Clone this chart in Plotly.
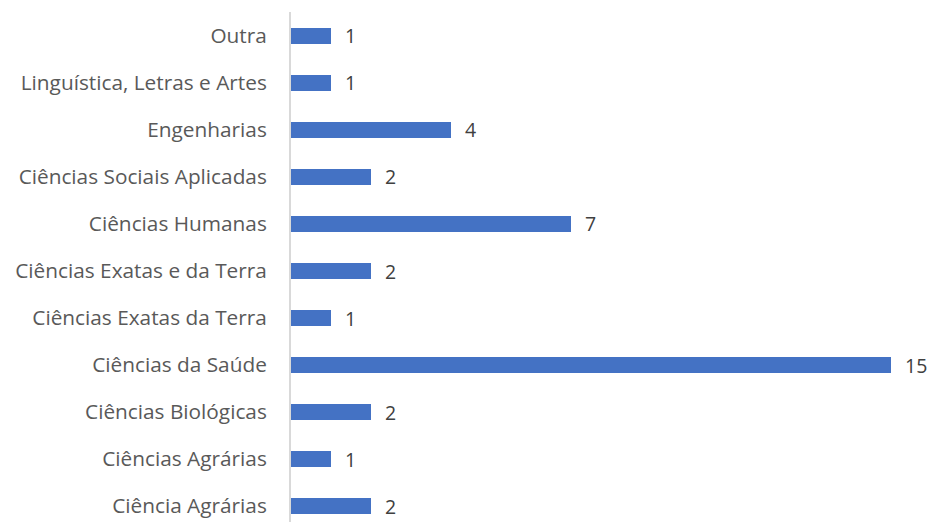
import plotly.graph_objects as go

categories = [
    'Ciência Agrárias', 'Ciências Agrárias', 'Ciências Biológicas',
    'Ciências da Saúde', 'Ciências Exatas da Terra', 'Ciências Exatas e da Terra',
    'Ciências Humanas', 'Ciências Sociais Aplicadas', 'Engenharias',
    'Linguística, Letras e Artes', 'Outra'
]
counts = [2, 1, 2, 15, 1, 2, 7, 2, 4, 1, 1]

fig = go.Figure()

fig.add_trace(go.Bar(
    x=counts,
    y=categories,
    orientation='h',
    marker=dict(color='#4472C4', line=dict(width=0)),
    width=0.34,
    hoverinfo='x+y'
))

# value labels to the right of each bar
for cat, val in zip(categories, counts):
    fig.add_annotation(
        x=val, y=cat, text=str(val),
        xanchor='left', yanchor='middle',
        xshift=12, showarrow=False,
        font=dict(family='Open Sans, sans-serif', size=19.5, color='#404040')
    )

# the page body adds an 8px margin, so the figure is a bit smaller than the window
fig.update_layout(
    plot_bgcolor='white',
    paper_bgcolor='white',
    width=927,
    height=514,
    margin=dict(l=283, r=0, t=4, b=0),
    showlegend=False,
    font=dict(family='Open Sans, sans-serif', size=20.8, color='#595959')
)

fig.update_xaxes(range=[0, 16.1], showgrid=False, showticklabels=False,
                 zeroline=False, showline=False)
fig.update_yaxes(type='category', range=[-0.34, 10.51], showgrid=False,
                 showline=True, linecolor='#D9D9D9', linewidth=2,
                 ticks='', ticklabelstandoff=18)

fig.write_html("out.html")
